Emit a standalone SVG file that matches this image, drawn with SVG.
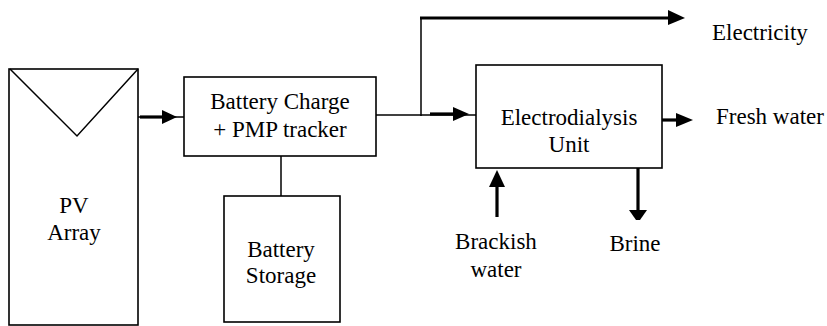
<svg xmlns="http://www.w3.org/2000/svg" width="827" height="326" viewBox="0 0 827 326" font-family="Liberation Serif, serif" font-size="23">
<style>
.box{fill:#fff;stroke:#000;stroke-width:1.6}
.thin{stroke:#000;stroke-width:1.5;fill:none}
.thick{stroke:#000;stroke-width:3.2;fill:none}
.head{fill:#000}
.c{text-anchor:middle}
</style>
<rect width="827" height="326" fill="#fff"/>
<g id="pv-array">
<rect class="box" x="9" y="69" width="129" height="256"/>
<polyline class="thin" points="10,69 77,136 138,69"/>
<text class="c" x="74" y="213">PV</text>
<text class="c" x="74" y="240">Array</text>
</g>
<g id="battery-charge">
<rect class="box" x="184" y="77" width="192" height="79"/>
<text class="c" x="280" y="109">Battery Charge</text>
<text class="c" x="280" y="137">+ PMP tracker</text>
</g>
<g id="battery-storage">
<rect class="box" x="224" y="196" width="116" height="126"/>
<text class="c" x="281" y="257">Battery</text>
<text class="c" x="281" y="283">Storage</text>
</g>
<g id="electrodialysis">
<rect class="box" x="476" y="65" width="186" height="103"/>
<text class="c" x="569" y="125">Electrodialysis</text>
<text class="c" x="569" y="152">Unit</text>
</g>
<g id="labels">
<text x="712" y="40">Electricity</text>
<text x="716" y="124">Fresh water</text>
<text class="c" x="496" y="249">Brackish</text>
<text class="c" x="496" y="277">water</text>
<text class="c" x="635" y="251">Brine</text>
</g>
<g id="connectors">
<line class="thin" x1="138" y1="117" x2="184" y2="117"/>
<line class="thick" x1="140" y1="117" x2="163" y2="117"/>
<polygon class="head" points="162,110 177,117 162,124"/>
<line class="thin" x1="281" y1="156" x2="281" y2="196"/>
<line class="thin" x1="376" y1="115" x2="476" y2="115"/>
<line class="thin" x1="421" y1="116" x2="421" y2="18"/>
<line class="thick" x1="420" y1="18" x2="670" y2="18"/>
<polygon class="head" points="668,10 685,18 668,25"/>
<line class="thick" x1="430" y1="114" x2="455" y2="114"/>
<polygon class="head" points="453,107 469,114 453,121"/>
<line class="thick" x1="662" y1="120" x2="678" y2="120"/>
<polygon class="head" points="676,113 693,120 676,127"/>
<line class="thick" x1="497" y1="217" x2="497" y2="185"/>
<polygon class="head" points="489,187 497,170 505,187"/>
<line class="thick" x1="638" y1="168" x2="638" y2="212"/>
<polygon class="head" points="629,210 647,210 640,220 636,220"/>
</g>
</svg>
